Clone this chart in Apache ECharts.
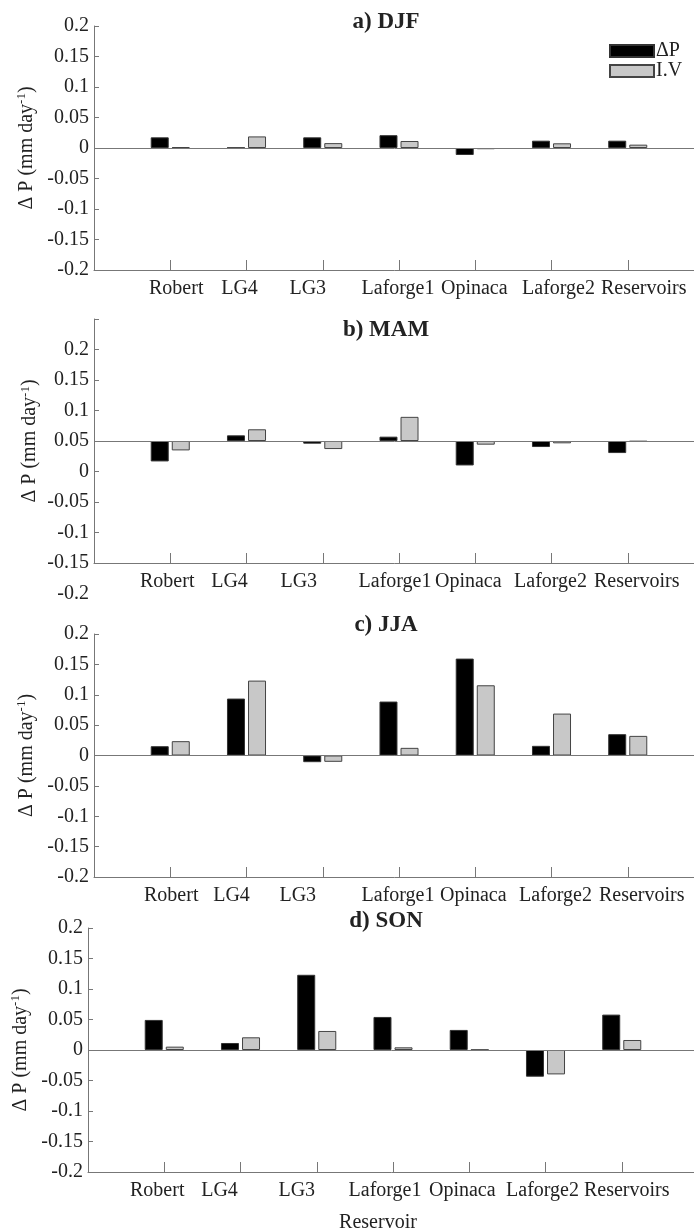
<!DOCTYPE html>
<html>
<head>
<meta charset="utf-8">
<script src="https://cdn.jsdelivr.net/npm/echarts@6/dist/echarts.min.js"></script>
<style>
  html, body { margin: 0; padding: 0; background: #fff; }
  #chart { width: 694px; height: 1230px; }
</style>
</head>
<body>
<div id="chart"></div>
<script>
// Reservoir names along the x axis
const reservoirs = ['Robert', 'LG4', 'LG3', 'Laforge1', 'Opinaca', 'Laforge2', 'Reservoirs'];

// Seasonal precipitation change (ΔP) and interannual variability (I.V), mm/day
const djfDeltaP = [0.0175, 0.0005, 0.0175, 0.021, -0.0115, 0.012, 0.012];
const djfIV     = [0.0015, 0.019, 0.008, 0.0115, -0.002, 0.0077, 0.0055];
const mamDeltaP = [-0.0335, 0.0093, -0.0044, 0.0071, -0.0401, -0.0099, -0.0198];
const mamIV     = [-0.0154, 0.0192, -0.0132, 0.0396, -0.006, -0.0038, -0.001];
const jjaDeltaP = [0.0153, 0.0937, -0.011, 0.0888, 0.1595, 0.0159, 0.0351];
const jjaIV     = [0.0236, 0.1233, -0.0104, 0.0126, 0.1156, 0.069, 0.0323];
const sonDeltaP = [0.0493, 0.0115, 0.1233, 0.0542, 0.0329, -0.0438, 0.058];
const sonIV     = [0.0055, 0.0208, 0.0312, 0.0044, 0.0005, -0.04, 0.0164];

const panelTitles = ['a) DJF', 'b) MAM', 'c) JJA', 'd) SON'];
const seriesNames = ['ΔP', 'I.V'];
const yMin = -0.2, yMax = 0.2, yStep = 0.05;

const FONT = '"Liberation Serif", "Times New Roman", serif';
const TEXT = '#222';
const AXIS = '#777';

const seasons = [
  { dp: djfDeltaP, iv: djfIV },
  { dp: mamDeltaP, iv: mamIV },
  { dp: jjaDeltaP, iv: jjaIV },
  { dp: sonDeltaP, iv: sonIV }
];

// Panel frames; labelShift nudges each category label sideways (px)
const frames = [
  { left: 94, top: 26,  height: 244, titleTop: 11,  labelShift: [6, -7, -15, -1, -1, 7, 16] },
  { left: 94, top: 319, height: 244, titleTop: 319, labelShift: [-3, -17, -24, -4, -7, -1, 9] },
  { left: 94, top: 634, height: 243, titleTop: 614, labelShift: [1, -15, -25, -1, -2, 4, 14] },
  { left: 88, top: 928, height: 244, titleTop: 910, labelShift: [-7, -21, -20, -8, -7, -3, 5] }
];
const plotWidth = 610;

// Categories padded with empty slots so ticks fall at 1..7 of a 0..8 span
const padded = [''].concat(reservoirs, ['']);
const pad = arr => [null].concat(arr, [null]);

const labelText = { fontFamily: FONT, fontSize: 20, color: TEXT };
function labelRich(shifts) {
  const rich = {};
  shifts.forEach((dx, k) => {
    rich['c' + (k + 1)] = Object.assign({}, labelText, {
      padding: dx >= 0 ? [0, 0, 0, 2 * dx] : [0, -2 * dx, 0, 0]
    });
  });
  return rich;
}

const grids = [], xAxes = [], yAxes = [], series = [], titles = [];

const yName = '{n|Δ P (mm day}{s|-1}{n|)}';
const yNameStyle = {
  rich: {
    n: { fontFamily: FONT, fontSize: 20, color: TEXT },
    s: { fontFamily: FONT, fontSize: 13, color: TEXT, padding: [0, 0, 9, 0] }
  }
};

frames.forEach((f, i) => {
  grids.push({ left: f.left, top: f.top, width: plotWidth, height: f.height, outerBoundsMode: 'none' });
  const isLast = i === frames.length - 1;
  xAxes.push({
    type: 'category', gridIndex: i, data: padded, boundaryGap: false,
    axisLine: { onZero: false, lineStyle: { color: AXIS, width: 1 } },
    axisTick: { inside: true, length: 10, lineStyle: { color: AXIS }, interval: (idx) => idx > 0 && idx < padded.length - 1 },
    axisLabel: {
      interval: 0, margin: 9, hideOverlap: false,
      color: TEXT, fontFamily: FONT, fontSize: 20,
      formatter: (v, idx) => v ? '{c' + idx + '|' + v + '}' : '',
      rich: labelRich(f.labelShift)
    },
    splitLine: { show: false },
    name: isLast ? 'Reservoir' : '',
    nameLocation: 'middle', nameGap: 41,
    nameTextStyle: { color: TEXT, fontFamily: FONT, fontSize: 20, padding: [0, 30, 0, 0] }
  });
  const shiftedLabels = i === 1;
  yAxes.push({
    type: 'value', gridIndex: i, min: yMin, max: yMax, interval: yStep,
    axisLine: { show: true, lineStyle: { color: AXIS, width: 1 } },
    axisTick: { show: true, inside: true, length: 5, lineStyle: { color: AXIS } },
    axisLabel: { show: !shiftedLabels, margin: 5, color: TEXT, fontFamily: FONT, fontSize: 20 },
    splitLine: { show: false },
    name: yName, nameLocation: 'middle', nameRotate: 90, nameGap: 53, nameTextStyle: yNameStyle
  });
  titles.push({
    text: panelTitles[i], left: 386, top: f.titleTop, textAlign: 'center', padding: 0,
    textStyle: { fontFamily: FONT, fontSize: 23, fontWeight: 'bold', color: TEXT }
  });
  series.push({
    name: seriesNames[0], type: 'bar', xAxisIndex: i, yAxisIndex: i,
    data: pad(seasons[i].dp), barWidth: 18, barGap: '17%',
    itemStyle: { color: '#000', borderColor: '#333', borderWidth: 1 },
    markLine: {
      silent: true, symbol: 'none', label: { show: false },
      lineStyle: { color: AXIS, width: 1, type: 'solid' },
      data: [{ yAxis: 0 }]
    }
  });
  series.push({
    name: seriesNames[1], type: 'bar', xAxisIndex: i, yAxisIndex: i,
    data: pad(seasons[i].iv), barWidth: 18, barGap: '17%',
    itemStyle: { color: '#c8c8c8', borderColor: '#444', borderWidth: 1 }
  });
});

// Panel b tick labels sit one step below their ticks
const b = frames[1];
const stepPx = b.height / ((yMax - yMin) / yStep);
grids.push({ left: b.left, top: b.top + stepPx, width: plotWidth, height: b.height, outerBoundsMode: 'none' });
xAxes.push({ type: 'category', gridIndex: 4, data: padded, show: false });
yAxes.push({
  type: 'value', gridIndex: 4, min: yMin, max: yMax, interval: yStep,
  axisLine: { show: false }, axisTick: { show: false }, splitLine: { show: false },
  axisLabel: { show: true, margin: 5, color: TEXT, fontFamily: FONT, fontSize: 20 }
});

const chart = echarts.init(document.getElementById('chart'), null, { renderer: 'canvas' });
chart.setOption({
  animation: false,
  backgroundColor: '#fff',
  title: titles,
  legend: {
    data: seriesNames, orient: 'vertical', left: 609, top: 41,
    itemWidth: 44, itemHeight: 12, itemGap: 0, icon: 'rect',
    textStyle: { fontFamily: FONT, fontSize: 20, color: TEXT, padding: [0, 0, 0, -3] },
    padding: 0, selectedMode: false
  },
  grid: grids,
  xAxis: xAxes,
  yAxis: yAxes,
  series: series
});
</script>
</body>
</html>
